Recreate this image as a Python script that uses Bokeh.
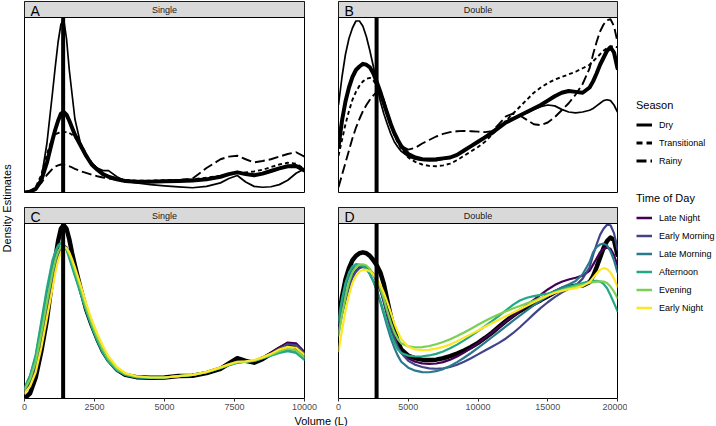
from math import pi

from bokeh.core.properties import value
from bokeh.embed import file_html
from bokeh.layouts import column, row
from bokeh.models import FixedTicker, Label, Legend, LegendItem, Range1d
from bokeh.plotting import figure
from bokeh.resources import INLINE

FONT = "Liberation Sans"

# ---------------------------------------------------------------------------
# Data: density estimates (relative units) sampled along volume (L)
# ---------------------------------------------------------------------------
vol_single = [0, 200, 400, 600, 800, 1000, 1100, 1200, 1300, 1400, 1500, 1600,
              1700, 1800, 2000, 2200, 2400, 2600, 2800, 3000, 3300, 3600, 4000,
              4500, 5000, 5500, 6000, 6500, 7000, 7300, 7600, 7900, 8200, 8500,
              8800, 9100, 9400, 9700, 10000]
vol_double = [0, 250, 500, 750, 1000, 1250, 1500, 1750, 2000, 2250, 2500, 2750,
              3000, 3250, 3500, 3750, 4000, 4250, 4500,
              5000, 5500, 6000, 6500, 7000, 7500, 8000, 8500, 9000, 9500, 10000,
              10500, 11000, 11500, 12000, 12500, 13000, 13500, 14000, 14500,
              15000, 15500, 16000, 16500, 17000, 17500, 18000,
              18250, 18500, 18750, 19000, 19250, 19500, 19750, 20000]

# Panel A: single tanks by season
single_all_season = [0.0, 0.005, 0.02, 0.07, 0.17, 0.30, 0.36, 0.41, 0.45, 0.46, 0.445, 0.41, 0.37, 0.33,
                     0.27, 0.21, 0.16, 0.13, 0.105, 0.09, 0.075, 0.066, 0.062, 0.062, 0.064, 0.066,
                     0.068, 0.075, 0.09, 0.105, 0.115, 0.105, 0.098, 0.108, 0.123, 0.138, 0.15, 0.152, 0.125]
single_dry = [0.0, 0.005, 0.025, 0.08, 0.28, 0.57, 0.72, 0.86, 0.96, 0.99, 0.88, 0.70, 0.56, 0.42,
              0.28, 0.21, 0.17, 0.14, 0.125, 0.125, 0.09, 0.065, 0.055, 0.045, 0.038, 0.032,
              0.027, 0.035, 0.055, 0.08, 0.097, 0.06, 0.035, 0.03, 0.033, 0.045, 0.07, 0.11, 0.135]
single_transitional = [0.0, 0.005, 0.03, 0.10, 0.22, 0.31, 0.33, 0.34, 0.345, 0.345, 0.345, 0.34, 0.33, 0.315,
                       0.28, 0.22, 0.17, 0.135, 0.11, 0.095, 0.08, 0.072, 0.068, 0.068, 0.07, 0.072,
                       0.075, 0.085, 0.095, 0.105, 0.115, 0.115, 0.12, 0.13, 0.145, 0.16, 0.17, 0.165, 0.135]
single_rainy = [0.0, 0.005, 0.02, 0.055, 0.10, 0.135, 0.148, 0.155, 0.16, 0.158, 0.155, 0.15, 0.143, 0.135,
                0.122, 0.112, 0.102, 0.093, 0.086, 0.08, 0.073, 0.068, 0.064, 0.064, 0.066, 0.07,
                0.08, 0.14, 0.19, 0.205, 0.21, 0.19, 0.172, 0.18, 0.19, 0.205, 0.22, 0.23, 0.205]

# Panel B: double tanks by season
double_all_season = [0.26, 0.41, 0.52, 0.60, 0.66, 0.70, 0.72, 0.735, 0.73, 0.715, 0.68, 0.63,
                     0.575, 0.51, 0.45, 0.39, 0.34, 0.30, 0.265,
                     0.22, 0.20, 0.19, 0.188, 0.19, 0.195, 0.20, 0.215, 0.24, 0.265, 0.29,
                     0.315, 0.34, 0.37, 0.40, 0.42, 0.44, 0.46, 0.48, 0.50,
                     0.525, 0.55, 0.57, 0.58, 0.575, 0.57, 0.60,
                     0.635, 0.68, 0.73, 0.77, 0.81, 0.83, 0.80, 0.71]
double_dry = [0.50, 0.66, 0.79, 0.88, 0.94, 0.98, 0.98, 0.95, 0.89, 0.81, 0.72, 0.62,
              0.52, 0.45, 0.39, 0.335, 0.29, 0.26, 0.235,
              0.205, 0.19, 0.185, 0.182, 0.182, 0.19, 0.20, 0.215, 0.24, 0.265, 0.29,
              0.32, 0.35, 0.38, 0.405, 0.425, 0.44, 0.455, 0.475, 0.49,
              0.50, 0.495, 0.475, 0.46, 0.455, 0.46, 0.47,
              0.48, 0.495, 0.51, 0.525, 0.53, 0.525, 0.50, 0.46]
double_transitional = [0.21, 0.30, 0.39, 0.465, 0.53, 0.575, 0.61, 0.635, 0.65, 0.655, 0.64, 0.61,
                       0.56, 0.50, 0.44, 0.385, 0.33, 0.285, 0.25,
                       0.20, 0.175, 0.16, 0.152, 0.15, 0.155, 0.165, 0.185, 0.21, 0.235, 0.26,
                       0.29, 0.33, 0.37, 0.41, 0.45, 0.49, 0.53, 0.57, 0.60,
                       0.625, 0.645, 0.66, 0.675, 0.69, 0.71, 0.73,
                       0.75, 0.77, 0.79, 0.81, 0.825, 0.835, 0.835, 0.83]
double_rainy = [0.03, 0.10, 0.17, 0.24, 0.31, 0.37, 0.42, 0.465, 0.50, 0.53, 0.555, 0.575,
                0.57, 0.53, 0.46, 0.40, 0.34, 0.295, 0.265,
                0.245, 0.255, 0.28, 0.30, 0.32, 0.335, 0.345, 0.35, 0.352, 0.35, 0.348,
                0.345, 0.35, 0.39, 0.435, 0.45, 0.44, 0.415, 0.39, 0.385,
                0.40, 0.43, 0.47, 0.51, 0.56, 0.62, 0.71,
                0.79, 0.86, 0.92, 0.96, 0.985, 0.99, 0.95, 0.86]

# Panel C: single tanks by time of day
single_all_tod = [0.0, 0.03, 0.12, 0.27, 0.45, 0.69, 0.80, 0.90, 0.97, 0.99, 0.97, 0.91, 0.83, 0.76,
                  0.63, 0.51, 0.42, 0.34, 0.27, 0.22, 0.165, 0.135, 0.122, 0.118, 0.12, 0.128,
                  0.13, 0.145, 0.17, 0.20, 0.23, 0.215, 0.205, 0.225, 0.255, 0.285, 0.31, 0.295, 0.24]
single_late_night = [0.04, 0.09, 0.18, 0.33, 0.51, 0.68, 0.76, 0.82, 0.86, 0.875, 0.865, 0.83, 0.78, 0.73,
                     0.63, 0.52, 0.43, 0.35, 0.28, 0.225, 0.17, 0.14, 0.125, 0.12, 0.12, 0.127,
                     0.135, 0.15, 0.175, 0.195, 0.21, 0.21, 0.215, 0.235, 0.26, 0.29, 0.32, 0.315, 0.265]
single_early_morning = [0.04, 0.10, 0.19, 0.35, 0.53, 0.70, 0.77, 0.83, 0.865, 0.875, 0.86, 0.825, 0.775, 0.72,
                        0.62, 0.51, 0.42, 0.34, 0.275, 0.22, 0.168, 0.138, 0.124, 0.12, 0.12, 0.127,
                        0.135, 0.15, 0.175, 0.195, 0.21, 0.21, 0.215, 0.232, 0.255, 0.285, 0.31, 0.305, 0.258]
single_late_morning = [0.06, 0.13, 0.24, 0.42, 0.61, 0.77, 0.83, 0.87, 0.885, 0.88, 0.855, 0.81, 0.76, 0.71,
                       0.61, 0.51, 0.42, 0.34, 0.27, 0.215, 0.163, 0.136, 0.122, 0.118, 0.12, 0.128,
                       0.135, 0.15, 0.175, 0.19, 0.205, 0.21, 0.215, 0.23, 0.248, 0.265, 0.28, 0.27, 0.23]
single_afternoon = [0.06, 0.13, 0.25, 0.44, 0.63, 0.79, 0.84, 0.875, 0.89, 0.88, 0.85, 0.80, 0.75, 0.70,
                    0.60, 0.50, 0.41, 0.33, 0.26, 0.21, 0.16, 0.135, 0.12, 0.118, 0.12, 0.128,
                    0.135, 0.15, 0.175, 0.19, 0.205, 0.21, 0.215, 0.23, 0.245, 0.26, 0.27, 0.26, 0.22]
single_evening = [0.05, 0.11, 0.21, 0.37, 0.55, 0.72, 0.79, 0.84, 0.865, 0.87, 0.86, 0.825, 0.78, 0.73,
                  0.63, 0.52, 0.43, 0.35, 0.28, 0.225, 0.17, 0.14, 0.125, 0.12, 0.12, 0.128,
                  0.135, 0.15, 0.176, 0.193, 0.208, 0.21, 0.217, 0.232, 0.25, 0.27, 0.285, 0.275, 0.235]
single_early_night = [0.03, 0.07, 0.15, 0.29, 0.46, 0.63, 0.72, 0.79, 0.835, 0.86, 0.86, 0.835, 0.795, 0.75,
                      0.65, 0.545, 0.45, 0.37, 0.30, 0.24, 0.18, 0.145, 0.127, 0.12, 0.12, 0.128,
                      0.135, 0.152, 0.178, 0.195, 0.21, 0.212, 0.22, 0.235, 0.255, 0.28, 0.295, 0.29, 0.25]

# Panel D: double tanks by time of day
double_all_tod = [0.45, 0.58, 0.68, 0.745, 0.79, 0.815, 0.83, 0.835, 0.83, 0.815, 0.79, 0.76,
                  0.72, 0.655, 0.56, 0.47, 0.39, 0.325, 0.28,
                  0.245, 0.23, 0.222, 0.22, 0.222, 0.23, 0.242, 0.257, 0.274, 0.294, 0.318,
                  0.346, 0.376, 0.41, 0.443, 0.473, 0.50, 0.522, 0.542, 0.562,
                  0.584, 0.607, 0.626, 0.638, 0.644, 0.646, 0.665,
                  0.70, 0.75, 0.805, 0.86, 0.90, 0.92, 0.905, 0.82]
double_late_night = [0.40, 0.50, 0.58, 0.65, 0.70, 0.73, 0.75, 0.755, 0.75, 0.735, 0.71, 0.67,
                     0.62, 0.55, 0.47, 0.40, 0.34, 0.29, 0.26,
                     0.228, 0.21, 0.201, 0.198, 0.20, 0.208, 0.222, 0.24, 0.262, 0.288, 0.316,
                     0.346, 0.377, 0.408, 0.44, 0.471, 0.502, 0.533, 0.564, 0.594,
                     0.623, 0.648, 0.667, 0.68, 0.69, 0.702, 0.73,
                     0.765, 0.80, 0.835, 0.855, 0.862, 0.855, 0.82, 0.76]
double_early_morning = [0.38, 0.48, 0.56, 0.635, 0.69, 0.725, 0.745, 0.752, 0.75, 0.735, 0.71, 0.67,
                        0.62, 0.555, 0.48, 0.41, 0.35, 0.295, 0.26,
                        0.215, 0.193, 0.18, 0.172, 0.17, 0.172, 0.18, 0.193, 0.21, 0.23, 0.252,
                        0.274, 0.296, 0.318, 0.343, 0.373, 0.407, 0.444, 0.482, 0.518,
                        0.55, 0.579, 0.605, 0.627, 0.645, 0.685, 0.75,
                        0.82, 0.88, 0.935, 0.97, 0.993, 0.99, 0.945, 0.85]
double_late_morning = [0.43, 0.55, 0.64, 0.70, 0.74, 0.755, 0.76, 0.755, 0.74, 0.71, 0.67, 0.615,
                       0.55, 0.48, 0.41, 0.345, 0.29, 0.245, 0.21,
                       0.176, 0.159, 0.151, 0.15, 0.156, 0.168, 0.186, 0.208, 0.233, 0.26, 0.289,
                       0.319, 0.35, 0.381, 0.412, 0.443, 0.473, 0.503, 0.532, 0.56,
                       0.587, 0.612, 0.634, 0.652, 0.672, 0.71, 0.78,
                       0.835, 0.865, 0.88, 0.885, 0.875, 0.84, 0.79, 0.72]
double_afternoon = [0.45, 0.57, 0.66, 0.72, 0.755, 0.768, 0.765, 0.757, 0.74, 0.71, 0.67, 0.62,
                    0.56, 0.495, 0.43, 0.37, 0.32, 0.28, 0.26,
                    0.245, 0.24, 0.241, 0.246, 0.255, 0.269, 0.287, 0.308, 0.332, 0.358, 0.385,
                    0.413, 0.442, 0.472, 0.503, 0.535, 0.56, 0.576, 0.585, 0.592,
                    0.60, 0.611, 0.624, 0.638, 0.65, 0.66, 0.668,
                    0.671, 0.672, 0.668, 0.655, 0.63, 0.59, 0.545, 0.50]
double_evening = [0.36, 0.48, 0.58, 0.665, 0.72, 0.75, 0.765, 0.767, 0.76, 0.74, 0.71, 0.675,
                  0.63, 0.57, 0.50, 0.435, 0.38, 0.34, 0.315,
                  0.298, 0.292, 0.294, 0.30, 0.31, 0.323, 0.339, 0.357, 0.377, 0.399, 0.421,
                  0.443, 0.463, 0.481, 0.498, 0.514, 0.529, 0.544, 0.559, 0.574,
                  0.589, 0.604, 0.618, 0.63, 0.641, 0.651, 0.66,
                  0.665, 0.668, 0.67, 0.668, 0.66, 0.64, 0.61, 0.575]
double_early_night = [0.27, 0.39, 0.50, 0.59, 0.66, 0.70, 0.725, 0.735, 0.735, 0.727, 0.71, 0.685,
                      0.65, 0.605, 0.55, 0.49, 0.43, 0.38, 0.34,
                      0.296, 0.28, 0.276, 0.278, 0.285, 0.295, 0.309, 0.327, 0.347, 0.368, 0.389,
                      0.41, 0.43, 0.45, 0.47, 0.49, 0.51, 0.53, 0.55, 0.57,
                      0.589, 0.604, 0.615, 0.624, 0.631, 0.642, 0.665,
                      0.69, 0.715, 0.735, 0.745, 0.74, 0.72, 0.685, 0.64]

# reference volumes marked by the vertical rules
single_marker_l = 1380
double_marker_l = 2730

season_labels = ["Dry", "Transitional", "Rainy"]
season_dashes = ["solid", "4 3", "10 4"]
tod_labels = ["Late Night", "Early Morning", "Late Morning", "Afternoon", "Evening", "Early Night"]
tod_colors = ["#440154", "#414487", "#2A788E", "#22A884", "#7AD151", "#FDE725"]

single_ticks = [0, 2500, 5000, 7500, 10000]
double_ticks = [0, 5000, 10000, 15000, 20000]

# facet strip height, as a fraction of the data area height
STRIP = 16 / 175


def make_panel(xmax, width, height, bl, br, bt, bb, ticks=None):
    p = figure(width=width, height=height, output_backend="svg", toolbar_location=None,
               x_range=Range1d(0, xmax), y_range=Range1d(0, 1 + STRIP),
               min_border_left=bl, min_border_right=br, min_border_top=bt, min_border_bottom=bb,
               x_axis_location="below" if ticks else None, y_axis_location=None,
               background_fill_color="white", border_fill_color="white")
    p.outline_line_color = "black"
    p.outline_line_width = 1
    for g in p.grid:
        g.visible = False
    if ticks:
        ax = p.xaxis[0]
        ax.ticker = FixedTicker(ticks=ticks)
        ax.axis_line_color = None
        ax.major_tick_in = 0
        ax.major_tick_out = 3
        ax.major_tick_line_color = "#333333"
        ax.minor_tick_line_color = None
        ax.major_label_standoff = 2
        ax.major_label_text_font = FONT
        ax.major_label_text_font_size = "9px"
        ax.major_label_text_color = "#4D4D4D"
    return p


def add_strip(p, xmax, strip_text, tag):
    p.quad(left=[0], right=[xmax], bottom=[1], top=[1 + STRIP],
           fill_color="#D9D9D9", line_color="black", line_width=1)
    p.text(x=[xmax / 2], y=[1 + STRIP / 2], text=[strip_text], text_align="center",
           text_baseline="middle", text_font=value(FONT), text_font_size="9px",
           text_color="#1A1A1A")
    p.add_layout(Label(x=0, y=1 + STRIP, x_offset=6, y_offset=-1, text=tag,
                       text_font=FONT, text_font_size="14px", text_color="black",
                       text_align="left", text_baseline="top"))


def draw_season(p, vol, overall, curves, marker):
    p.line(vol, overall, line_color="black", line_width=4, line_join="round", line_cap="round")
    for ys, dash in zip(curves, season_dashes):
        w = 1.7 if dash == "solid" else 1.9
        p.line(vol, ys, line_color="black", line_width=w, line_dash=dash, line_join="round")
    p.segment(x0=[marker], y0=[0], x1=[marker], y1=[1], line_color="black", line_width=4)


def draw_tod(p, vol, overall, curves, marker):
    p.line(vol, overall, line_color="black", line_width=4.5, line_join="round", line_cap="round")
    for ys, col in zip(curves, tod_colors):
        p.line(vol, ys, line_color=col, line_width=2.2, line_join="round", line_cap="round")
    p.segment(x0=[marker], y0=[0], x1=[marker], y1=[1], line_color="black", line_width=4)


pa = make_panel(10000, 307, 200, 10, 17, 1, 8)
draw_season(pa, vol_single, single_all_season,
            [single_dry, single_transitional, single_rainy], single_marker_l)
add_strip(pa, 10000, "Single", "A")

pb = make_panel(20000, 306, 200, 17, 10, 1, 8)
draw_season(pb, vol_double, double_all_season,
            [double_dry, double_transitional, double_rainy], double_marker_l)
add_strip(pb, 20000, "Double", "B")

pc = make_panel(10000, 307, 214, 10, 17, 7, 16, single_ticks)
draw_tod(pc, vol_single, single_all_tod,
         [single_late_night, single_early_morning, single_late_morning,
          single_afternoon, single_evening, single_early_night], single_marker_l)
add_strip(pc, 10000, "Single", "C")

pd = make_panel(20000, 306, 214, 17, 10, 7, 16, double_ticks)
draw_tod(pd, vol_double, double_all_tod,
         [double_late_night, double_early_morning, double_late_morning,
          double_afternoon, double_evening, double_early_night], double_marker_l)
add_strip(pd, 20000, "Double", "D")


def blank(width, height, left=0, top=0):
    p = figure(width=width, height=height, output_backend="svg", toolbar_location=None,
               x_range=Range1d(0, 1), y_range=Range1d(0, 1),
               x_axis_location=None, y_axis_location=None,
               min_border_left=left, min_border_right=0,
               min_border_top=top, min_border_bottom=0,
               background_fill_color="white", border_fill_color="white")
    p.outline_line_color = None
    for g in p.grid:
        g.visible = False
    return p


# shared axis titles
ylab = blank(14, 426)
ylab.add_layout(Label(x=0.43, y=0.512, text="Density Estimates", angle=pi / 2,
                      text_font=FONT, text_font_size="11px", text_color="black",
                      text_align="center", text_baseline="middle"))

xlab = blank(613, 12)
xlab.add_layout(Label(x=0.5, y=0.5, text="Volume (L)", text_font=FONT,
                      text_font_size="11px", text_color="black",
                      text_align="center", text_baseline="middle"))


def legend_panel(height, top, title, styles, labels):
    p = blank(89, height, left=9, top=top)
    items = []
    for lab, st in zip(labels, styles):
        # key-only renderer, kept outside the visible range
        r = p.line(x=[-2, -1], y=[-2, -2], **st)
        items.append(LegendItem(label=value(lab), renderers=[r]))
    leg = Legend(items=items, location="top_left", title=title,
                 title_text_font=FONT, title_text_font_size="11px",
                 title_text_font_style="normal", title_text_color="black",
                 title_standoff=6, label_text_font=FONT, label_text_font_size="9px",
                 label_text_color="black", label_height=15, glyph_height=15,
                 glyph_width=16, label_standoff=7, spacing=3, padding=0, margin=0,
                 border_line_color=None, background_fill_alpha=0)
    p.add_layout(leg)
    return p


season_key_styles = [dict(line_color="black", line_width=3, line_dash="solid"),
                     dict(line_color="black", line_width=3, line_dash="6 4"),
                     dict(line_color="black", line_width=3, line_dash="10 4")]
tod_key_styles = [dict(line_color=c, line_width=2.5) for c in tod_colors]

leg_season = legend_panel(190, 99, "Season", season_key_styles, season_labels)
leg_tod = legend_panel(236, 2, "Time of Day", tod_key_styles, tod_labels)

layout = row(ylab,
             column(row(pa, pb), row(pc, pd), xlab),
             column(leg_season, leg_tod))

open("out.html", "w").write(file_html(layout, INLINE))
